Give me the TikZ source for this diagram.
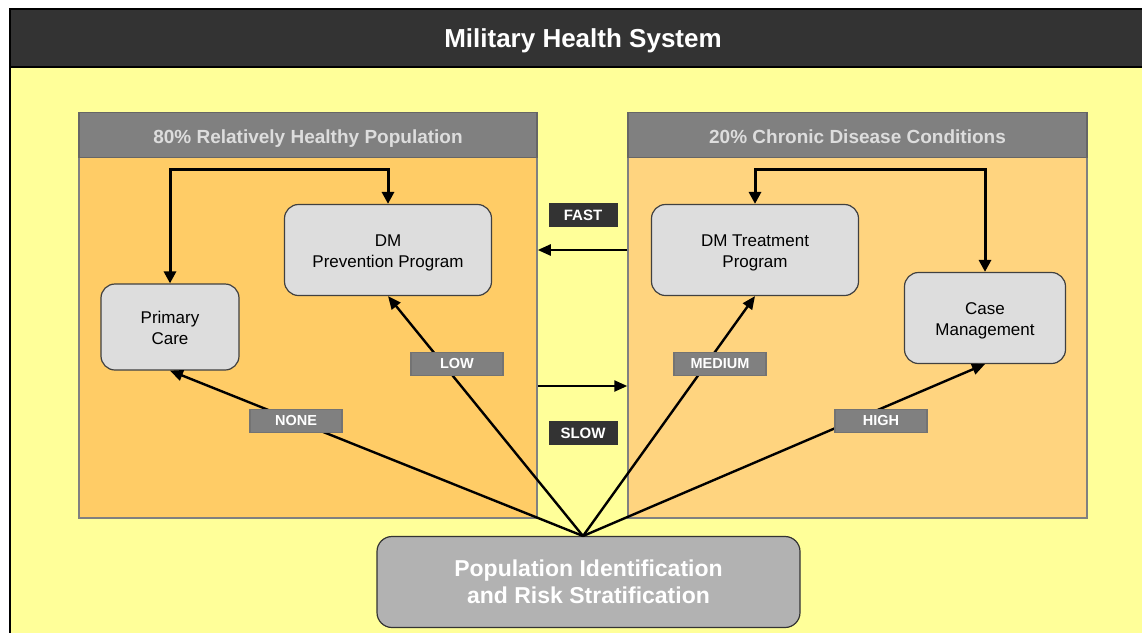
\documentclass[tikz,border=0pt]{standalone}
\usepackage{fontspec}
\setmainfont{Liberation Sans}
\usetikzlibrary{arrows.meta}

\definecolor{PadYellow}{HTML}{FFFF99}
\definecolor{HealthyOrange}{HTML}{FFCC66}
\definecolor{ChronicOrange}{HTML}{FFD47F}
\definecolor{BarGray}{HTML}{808080}
\definecolor{BoxGray}{HTML}{DDDDDD}
\definecolor{TitleBlack}{HTML}{333333}
\definecolor{RiskGray}{HTML}{B2B2B2}

\tikzset{
  carebox/.style={rounded corners=14pt, draw=black!75, line width=1.2pt,
     fill=BoxGray, align=center, font=\fontsize{17}{21}\selectfont,
     text height=35.5pt, text depth=0pt},
  risktag/.style={draw=black!55, line width=1.2pt, fill=BarGray, text=white,
     font=\bfseries\fontsize{14.5}{16}\selectfont,
     minimum width=92pt, minimum height=23pt, inner sep=0pt},
  speedtag/.style={fill=TitleBlack, text=white,
     font=\bfseries\fontsize{15}{16}\selectfont,
     minimum width=69pt, minimum height=24pt, inner sep=0pt},
  panel/.style={draw=BarGray, line width=1.5pt, minimum height=405pt, inner sep=0pt},
  panelhead/.style={draw=black!60, line width=1.2pt, fill=BarGray, text=BoxGray,
     font=\bfseries\fontsize{19}{22}\selectfont, minimum height=45pt,
     text height=15.6pt, text depth=0pt, inner sep=0pt, anchor=north},
  feed/.style={line width=2.4pt, -{Triangle[length=13pt, width=11pt]}},
  linkloop/.style={line width=3pt, {Triangle[length=12pt, width=12pt]}-{Triangle[length=12pt, width=12pt]}}
}

\begin{document}
\begin{tikzpicture}[x=1pt, y=-1pt]
   \useasboundingbox (0,0) rectangle (1142,632);
   \clip (0,0) rectangle (1142,632);

   % frame and title bar
   \fill [white] (0,0) rectangle (1142,632);
   \draw [fill=PadYellow, line width=1.5pt] (10,9) rectangle (1160,650);
   \draw [fill=TitleBlack, line width=1.5pt] (10,9) rectangle (1160,67);
   \node (title) at (583,38) [text=white, text height=18.6pt, text depth=0pt,
      font=\bfseries\fontsize{26}{30}\selectfont] {Military Health System};

   % the two populations
   \node (healthy) at (308,315.5) [panel, fill=HealthyOrange, minimum width=458pt] {};
   \node (chronic) at (857.5,315.5) [panel, fill=ChronicOrange, minimum width=459pt] {};
   \node (healthyhead) at (healthy.north) [panelhead, minimum width=458pt]
      {80\% Relatively Healthy Population};
   \node (chronichead) at (chronic.north) [panelhead, minimum width=459pt]
      {20\% Chronic Disease Conditions};

   % programs
   \node (prim) at (170,327) [carebox, minimum width=138pt, minimum height=86pt]
      {Primary\\Care};
   \node (prev) at (388,250) [carebox, minimum width=207pt, minimum height=91pt]
      {DM\\Prevention Program};
   \node (treat) at (755,250) [carebox, minimum width=207pt, minimum height=91pt]
      {DM Treatment\\Program};
   \node (case) at (985,318) [carebox, minimum width=161pt, minimum height=91pt]
      {Case\\Management};

   \node (risk) at (588.5,582) [rounded corners=15pt, draw=black!80, line width=1.2pt,
      fill=RiskGray, text=white, align=center,
      font=\bfseries\fontsize{23}{27}\selectfont,
      minimum width=423pt, minimum height=91pt]
      {Population Identification\\and Risk Stratification};
   \coordinate (apex) at (583,536);

   % stratification arrows
   \draw [feed] (apex) -- (prim.south);
   \draw [feed] (apex) -- (prev.south);
   \draw [feed] (apex) -- (treat.south);
   \draw [feed] (apex) -- (case.south);

   \node (none) at (296,421) [risktag] {NONE};
   \node (low) at (457,364) [risktag] {LOW};
   \node (medium) at (720,364) [risktag] {MEDIUM};
   \node (high) at (881,421) [risktag] {HIGH};

   % loops inside each population
   \draw [linkloop] (prim.north) -- ++(0,-114) -| (prev.north);
   \draw [linkloop] (treat.north) -- ++(0,-34) -| (case.north);

   % moving between populations
   \coordinate (slowin) at (healthy.east |- 0,386);
   \draw [feed] (chronic.west |- prev) -- (healthy.east |- prev);
   \draw [feed] (slowin) -- (chronic.west |- slowin);
   \node (fast) at (583,215) [speedtag] {FAST};
   \node (slow) at (583,433) [speedtag] {SLOW};
\end{tikzpicture}
\end{document}
